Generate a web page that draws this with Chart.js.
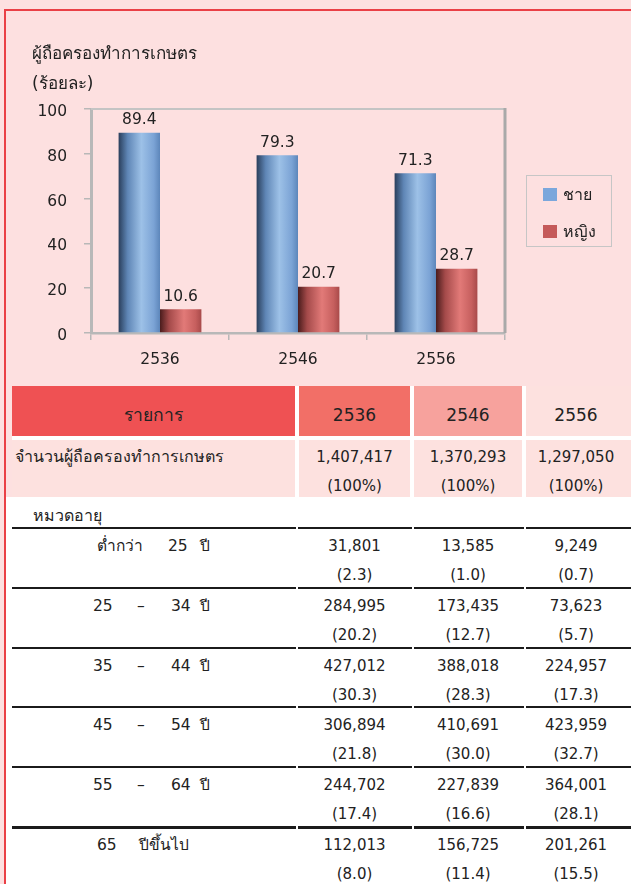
<!DOCTYPE html>
<html>
<head>
<meta charset="utf-8">
<script src="https://cdn.jsdelivr.net/npm/chart.js@4.4.1/dist/chart.umd.min.js"></script>
<style>
  html, body { margin: 0; padding: 0; }
  body { width: 631px; height: 884px; position: relative; overflow: hidden; background: #fde0e0;
         font-family: "DejaVu Sans", "Noto Sans", sans-serif; color: #222; }
  #white { position: absolute; left: 6px; top: 497px; right: 0; bottom: 0; background: #fff; }
  #gapBg { position: absolute; left: 12px; top: 386px; width: 619px; height: 111px; background: #fff; }
  #frame { position: absolute; left: 4px; top: 9px; width: 700px; height: 900px;
           border-top: 2px solid #ea4046; border-left: 2px solid #ea4046; }
  #chartBox { position: absolute; left: 0; top: 0; width: 631px; height: 380px; }
  #chartBox canvas { display: block; }
  .abs { position: absolute; white-space: nowrap; }
  .cell { position: absolute; }
  .line { position: absolute; background: #1b1b1b; }
  #legend { position: absolute; left: 526px; top: 175px; width: 84px; height: 70px; border: 1px solid #c6c6c6; }
  .legItem { position: absolute; left: 16px; height: 22px; line-height: 22px; font-size: 16px; white-space: nowrap; }
  .legItem span.sw { position: absolute; left: 0; top: 4px; width: 14px; height: 13px; }
  .legItem span.tx { position: absolute; left: 20px; top: 0; }
</style>
</head>
<body>
<div id="white"></div>
<div id="gapBg"></div>
<div id="frame"></div>
<div id="chartBox"><canvas id="c" width="631" height="380"></canvas></div>
<div id="legend"></div>
<div id="table"></div>
<script>
// ---------- data ----------
const years = ['2536', '2546', '2556'];
const seriesNames = ['ชาย', 'หญิง'];
const maleShare = [89.4, 79.3, 71.3];
const femaleShare = [10.6, 20.7, 28.7];
const yTicks = [0, 20, 40, 60, 80, 100];

const chartTitle = ['ผู้ถือครองทำการเกษตร', '(ร้อยละ)'];
const headerItem = 'รายการ';
const totalLabel = 'จำนวนผู้ถือครองทำการเกษตร';
const totalHolders = [1407417, 1370293, 1297050];
const totalShareText = ['(100%)', '(100%)', '(100%)'];
const ageHeading = 'หมวดอายุ';
const ageLabels = [
  ['ต่ำกว่า', '25', 'ปี'],
  ['25', '–', '34', 'ปี'],
  ['35', '–', '44', 'ปี'],
  ['45', '–', '54', 'ปี'],
  ['55', '–', '64', 'ปี'],
  ['65', 'ปีขึ้นไป']
];
const ageCount2536 = [31801, 284995, 427012, 306894, 244702, 112013];
const ageCount2546 = [13585, 173435, 388018, 410691, 227839, 156725];
const ageCount2556 = [9249, 73623, 224957, 423959, 364001, 201261];
const agePct2536 = [2.3, 20.2, 30.3, 21.8, 17.4, 8.0];
const agePct2546 = [1.0, 12.7, 28.3, 30.0, 16.6, 11.4];
const agePct2556 = [0.7, 5.7, 17.3, 32.7, 28.1, 15.5];

// ---------- styles ----------
const FONT = '"DejaVu Sans", "Noto Sans", sans-serif';
const swatchColors = ['#7ba7dc', '#c55a5a'];
const blueStops = [[0, '#2a3f5c'], [0.22, '#5f86b6'], [0.55, '#9dc1e7'], [0.85, '#7ba3d5'], [1, '#5d86ba']];
const redStops = [[0, '#4a1c1c'], [0.22, '#a44a4a'], [0.58, '#e27a78'], [0.86, '#c65f5e'], [1, '#a84a4a']];
const CAT_PCT = 0.6;

function gradientFill(stops, side) {
  return function (c) {
    const chart = c.chart;
    const xs = chart.scales ? chart.scales.x : null;
    if (c.type !== 'data' || !chart.chartArea || !xs || !xs.width) return stops[2][1];
    const center = xs.getPixelForValue(c.dataIndex);
    const bw = (xs.width / years.length) * CAT_PCT / 2;
    const x0 = side < 0 ? center - bw : center;
    const g = chart.ctx.createLinearGradient(x0, 0, x0 + bw, 0);
    stops.forEach(s => g.addColorStop(s[0], s[1]));
    return g;
  };
}

const plotFrame = {
  id: 'plotFrame',
  beforeDatasetsDraw(chart) {
    const { ctx, chartArea: a } = chart;
    ctx.save();
    ctx.strokeStyle = '#c4c4c4'; ctx.lineWidth = 2;
    ctx.beginPath(); ctx.moveTo(a.left, a.top); ctx.lineTo(a.right, a.top); ctx.stroke();
    ctx.strokeStyle = '#a9a9a9'; ctx.lineWidth = 3;
    ctx.beginPath(); ctx.moveTo(a.right, a.top - 1); ctx.lineTo(a.right, a.bottom); ctx.stroke();
    ctx.restore();
  }
};

const valueLabels = {
  id: 'valueLabels',
  afterDatasetsDraw(chart) {
    const ctx = chart.ctx;
    ctx.save();
    ctx.font = '15.5px ' + FONT;
    ctx.fillStyle = '#222';
    ctx.textAlign = 'center';
    ctx.textBaseline = 'middle';
    chart.data.datasets.forEach((ds, i) => {
      chart.getDatasetMeta(i).data.forEach((bar, j) => {
        ctx.fillText(ds.data[j].toFixed(1), bar.x, bar.y - 12.5);
      });
    });
    ctx.restore();
  }
};

Chart.defaults.font.family = FONT;
Chart.defaults.color = '#222';

const chart = new Chart(document.getElementById('c'), {
  type: 'bar',
  data: {
    labels: years,
    datasets: [
      { label: seriesNames[0], data: maleShare, backgroundColor: gradientFill(blueStops, -1),
        categoryPercentage: CAT_PCT, barPercentage: 1, borderWidth: 0 },
      { label: seriesNames[1], data: femaleShare, backgroundColor: gradientFill(redStops, 1),
        categoryPercentage: CAT_PCT, barPercentage: 1, borderWidth: 0 }
    ]
  },
  options: {
    responsive: false,
    animation: false,
    layout: { padding: { left: 32, right: 126, top: 0, bottom: 0 } },
    plugins: {
      legend: { display: false },
      tooltip: { enabled: false },
      title: {
        display: true, text: chartTitle, align: 'start', color: '#222',
        font: { size: 17, weight: 'normal', lineHeight: '30px' },
        padding: { top: 40, bottom: 9 }
      }
    },
    scales: {
      x: {
        grid: { drawOnChartArea: false, tickLength: 7, color: '#b8b8b8', lineWidth: 1.5, offset: true },
        border: { color: '#b8b8b8', width: 2.5 },
        ticks: { color: '#222', font: { size: 15.5 }, padding: 11 },
        afterFit(s) { s.height = 47; }
      },
      y: {
        min: 0, max: 100,
        afterBuildTicks(s) { s.ticks = yTicks.map(v => ({ value: v })); },
        grid: { drawOnChartArea: false, tickLength: 7, color: '#b8b8b8', lineWidth: 1.5 },
        border: { color: '#b8b8b8', width: 3 },
        ticks: { color: '#222', font: { size: 15.5 }, padding: 17, labelOffset: 3 },
        afterFit(s) { s.width = 59; }
      }
    }
  },
  plugins: [plotFrame, valueLabels]
});

// ---------- HTML legend built from the chart's datasets ----------
(function () {
  const leg = document.getElementById('legend');
  chart.data.datasets.forEach((ds, i) => {
    const it = document.createElement('div');
    it.className = 'legItem';
    it.style.top = (8 + i * 37) + 'px';
    it.innerHTML = '<span class="sw" style="background:' + swatchColors[i] + '"></span><span class="tx">' + ds.label + '</span>';
    leg.appendChild(it);
  });
})();

// ---------- table ----------
const T = document.getElementById('table');
const cols = [ { l: 12, r: 295 }, { l: 299, r: 410 }, { l: 414, r: 522 }, { l: 526, r: 631 } ];
const textCols = [ { l: 299, w: 111 }, { l: 414, w: 108 }, { l: 526, w: 100 } ];
const headColors = ['#ef5153', '#f26f67', '#f7a29d', '#fde1df'];

function box(x, y, w, h, bg) {
  const d = document.createElement('div');
  d.className = 'cell';
  d.style.cssText = 'left:' + x + 'px;top:' + y + 'px;width:' + w + 'px;height:' + h + 'px;background:' + bg;
  T.appendChild(d);
}
function text(str, x, cy, size, opts) {
  const d = document.createElement('div');
  d.className = 'abs';
  d.textContent = str;
  let css = 'left:' + x + 'px;top:' + (cy - 12) + 'px;height:24px;line-height:24px;font-size:' + size + 'px;';
  if (opts && opts.w) css += 'width:' + opts.w + 'px;text-align:center;';
  d.style.cssText = css;
  T.appendChild(d);
}

// header row
cols.forEach((c, i) => box(c.l, 386, c.r - c.l, 50, headColors[i]));
text(headerItem, cols[0].l, 415, 17.5, { w: cols[0].r - cols[0].l });
years.forEach((y, i) => text(y, textCols[i].l, 415, 17, { w: textCols[i].w }));

// total row
cols.forEach(c => box(c.l, 440, c.r - c.l, 57, '#fde1df'));
text(totalLabel, 15, 457, 16);
totalHolders.forEach((v, i) => {
  text(v.toLocaleString('en-US'), textCols[i].l, 457, 15, { w: textCols[i].w });
  text(totalShareText[i], textCols[i].l, 486, 15, { w: textCols[i].w });
});

// age section
text(ageHeading, 33, 516, 16);
const counts = [ageCount2536, ageCount2546, ageCount2556];
const pcts = [agePct2536, agePct2546, agePct2556];
const labelX = { 2: [97, 139], 3: [97, 168, 200], 4: [93, 137, 171, 200] };
const segs = [[12, 296], [298, 412], [414, 524], [526, 631]];
ageLabels.forEach((parts, r) => {
  const top = 527 + Math.round(r * 59.8);
  const thick = r === ageLabels.length - 1 ? 3 : 2;
  segs.forEach(s => {
    const d = document.createElement('div');
    d.className = 'line';
    d.style.cssText = 'left:' + s[0] + 'px;top:' + top + 'px;width:' + (s[1] - s[0]) + 'px;height:' + thick + 'px';
    T.appendChild(d);
  });
  const cy1 = top + 19, cy2 = top + 48;
  parts.forEach((p, k) => text(p, labelX[parts.length][k], cy1, 15.5));
  counts.forEach((arr, i) => {
    text(arr[r].toLocaleString('en-US'), textCols[i].l, cy1, 15, { w: textCols[i].w });
    text('(' + pcts[i][r].toFixed(1) + ')', textCols[i].l, cy2, 15, { w: textCols[i].w });
  });
});
</script>
</body>
</html>
